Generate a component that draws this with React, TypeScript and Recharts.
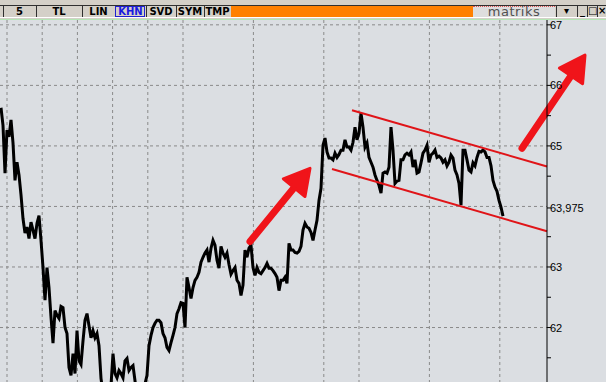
import { LineChart, Line, XAxis, YAxis, CartesianGrid, ReferenceLine } from 'recharts'

// closing prices, one per bar
const prices = [
  65.63, 65.34, 64.55, 65.26, 65.15, 65.43, 65.05, 64.43, 64.73, 64.52,
  64.19, 63.8, 63.56, 63.66, 63.47, 63.74, 63.61, 63.47, 63.72, 63.85,
  63.44, 62.99, 62.45, 62.99, 62.66, 62.17, 61.74, 62.28, 62.2, 62.15,
  62.35, 62.33, 62.0, 61.9, 61.34, 61.21, 61.57, 61.24, 61.95, 61.45,
  61.39, 61.78, 62.12, 62.23, 62.03, 61.83, 61.95, 61.83, 61.9, 61.7,
  61.16, 60.92, 60.79, 60.87, 60.82, 61.04, 61.57, 61.24, 61.17, 61.29,
  61.24, 61.17, 61.45, 61.49, 61.29, 61.34, 61.37, 61.12, 60.87, 60.79,
  60.82, 60.92, 61.07, 61.21, 61.7, 61.87, 62.0, 62.07, 62.12, 62.12,
  62.08, 61.9, 61.83, 61.67, 61.62, 61.75, 61.87, 62.0, 62.23, 62.31,
  62.41, 62.4, 62.0, 62.83, 62.66, 62.48, 62.66, 62.78, 62.83, 62.91,
  63.08, 63.16, 63.23, 63.28, 63.08, 63.31, 63.44, 63.36, 63.11, 62.98,
  63.34, 63.23, 63.16, 63.23, 63.04, 62.88, 62.94, 62.99, 62.78, 62.73,
  62.53, 62.7, 63.28, 63.16, 63.31, 63.36, 62.99, 62.86, 62.99, 62.91,
  62.89, 62.94, 62.99, 63.06, 62.98, 62.98, 62.94, 62.89, 62.83, 62.61,
  62.78, 62.78, 62.83, 62.73, 63.39, 63.28, 63.28, 63.24, 63.23, 63.26,
  63.34, 63.61, 63.72, 63.66, 63.64, 63.57, 63.44, 63.61, 63.77, 64.1,
  64.3, 65.01, 65.13, 64.9, 64.8, 64.8, 64.77, 64.88, 64.81, 64.86,
  64.93, 64.93, 65.1, 64.98, 64.98, 64.93, 65.06, 65.31, 65.1, 65.21,
  65.54, 65.31, 64.98, 65.05, 64.81, 64.73, 64.65, 64.52, 64.43, 64.35,
  64.22, 64.55, 64.57, 64.55, 64.65, 65.31, 64.93, 64.38, 64.42, 64.43,
  64.77, 64.77, 64.85, 64.88, 64.85, 64.9, 64.65, 64.77, 64.55, 64.57,
  64.72, 64.88, 64.93, 65.01, 64.73, 64.85, 64.88, 64.93, 64.81, 64.83,
  64.8, 64.73, 64.77, 64.67, 64.73, 64.85, 64.8, 64.6, 64.52, 64.38,
  64.02, 64.93, 64.93, 64.77, 64.6, 64.57, 64.72, 64.67, 64.81, 64.91,
  64.9, 64.93, 64.9, 64.81, 64.81, 64.67, 64.43, 64.32, 64.25, 64.1,
  63.99, 63.84,
]

const yTicks = [61.5, 62, 62.5, 63, 63.5, 63.975, 64.5, 65, 65.5, 66, 66.5, 67]
const yLabels: Record<string, string> = {
  '62': '62', '63': '63', '63.975': '63,975', '65': '65', '66': '66', '67': '67',
}
const gridPrices = [62, 63, 64, 65, 66, 67]
const gridBars = [3, 20.6, 38.2, 55.8, 73.4, 91, 108.6, 126.2, 143.8, 161.4, 179, 196.6, 214.2, 231.8, 249.4]

// drawn annotations: [bar, price]
const upperChannel = [[175.5, 65.59], [273, 64.66]]
const lowerChannel = [[165.5, 64.62], [273, 63.59]]
const arrowLeft = [[124.5, 63.42], [154.5, 64.63]]
const arrowRight = [[260.5, 64.96], [292, 66.5]]

const toolButtons = [
  { label: '5', x: 3, w: 33 },
  { label: 'TL', x: 36, w: 46 },
  { label: 'LIN', x: 82, w: 33 },
  { label: 'KHN', x: 115, w: 31, active: true },
  { label: 'SVD', x: 146, w: 30 },
  { label: 'SYM', x: 176, w: 28 },
  { label: 'TMP', x: 204, w: 27 },
]

const data = prices.map((p, i) => ({ t: i, price: p }))

const RED = '#f0141a'

function Arrow(props: any) {
  const { x1, y1, x2, y2 } = props
  const dx = x2 - x1
  const dy = y2 - y1
  const len = Math.sqrt(dx * dx + dy * dy)
  const ux = dx / len
  const uy = dy / len
  const headLen = 25
  const half = 14
  const bx = x2 - ux * headLen
  const by = y2 - uy * headLen
  const pts = [
    [x2, y2],
    [bx - uy * half, by + ux * half],
    [bx + uy * half, by - ux * half],
  ]
  return (
    <g>
      <line x1={x1} y1={y1} x2={bx + ux * 4} y2={by + uy * 4} stroke={RED} strokeWidth={7} strokeLinecap="round" />
      <polygon points={pts.map((p) => p.join(',')).join(' ')} fill={RED} stroke={RED} strokeWidth={3} strokeLinejoin="round" />
    </g>
  )
}

function PriceTick(props: any) {
  const { x, y, payload } = props
  const label = yLabels[String(payload.value)]
  if (!label) return <g />
  return (
    <text x={x - 1} y={y} dy={4} fontSize={11} fill="#000" fontFamily="'Liberation Sans', Arial, sans-serif">
      {label}
    </text>
  )
}

function Toolbar() {
  return (
    <div style={{ position: 'absolute', left: 0, top: 0, width: 606, height: 19, background: '#d4d0c8' }}>
      <div style={{ position: 'absolute', left: 0, top: 5, width: 606, height: 11, borderTop: '1px solid #303030', borderBottom: '1px solid #303030' }} />
      {toolButtons.map((b) => (
        <div
          key={b.label}
          style={{
            position: 'absolute', left: b.x, top: 6, width: b.w - 1, height: 11,
            borderLeft: '1px solid #303030', background: '#d4d0c8',
            boxSizing: 'border-box',
            outline: b.active ? '1px solid #2020d0' : 'none', outlineOffset: -1,
            color: b.active ? '#1a1ae0' : '#000',
            fontFamily: "'DejaVu Sans', Verdana, sans-serif", fontWeight: 'bold', fontSize: 10,
            lineHeight: '11px', textAlign: 'center',
          }}
        >
          {b.label}
        </div>
      ))}
      <div style={{ position: 'absolute', left: 231, top: 6, width: 242, height: 11, background: '#ff8000' }} />
      <div style={{
        position: 'absolute', left: 473, top: 6, width: 82, height: 11, background: '#dedede',
        borderTop: '1px dotted #e05050', boxSizing: 'border-box',
        color: '#505050', fontFamily: "'DejaVu Sans', sans-serif", fontSize: 13, lineHeight: '9px', textAlign: 'center',
        letterSpacing: 0.5,
      }}>
        matriks
      </div>
      {[
        { s: '▾', x: 556, w: 20 },
        { s: '_', x: 577, w: 10 },
        { s: '□', x: 587, w: 10 },
        { s: '×', x: 597, w: 9 },
      ].map((c) => (
        <div key={c.x} style={{
          position: 'absolute', left: c.x, top: 6, width: c.w, height: 11, background: '#d4d0c8',
          borderLeft: '1px solid #303030', boxSizing: 'border-box', fontSize: 10, lineHeight: '10px',
          textAlign: 'center', fontFamily: "'DejaVu Sans', sans-serif", fontWeight: 'bold', color: '#000',
        }}>{c.s}</div>
      ))}
      <div style={{ position: 'absolute', left: 0, top: 17, width: 606, height: 1, background: '#ffffff' }} />
    </div>
  )
}

export default function App() {
  return (
    <div style={{ position: 'absolute', left: 0, top: 0, width: 606, height: 382, overflow: 'hidden', background: '#dbdee2' }}>
      <Toolbar />
      <div style={{ position: 'absolute', left: 0, top: 19, width: 606, height: 1, background: '#b4e6b4' }} />
      <div style={{ position: 'absolute', left: 0, top: 20 }}>
        <LineChart width={606} height={362} data={data} margin={{ top: 0, right: 0, bottom: 0, left: 0 }}>
          <CartesianGrid
            stroke="#8a8a8a"
            strokeDasharray="3 3"
            horizontalValues={gridPrices}
            verticalValues={gridBars}
          />
          <XAxis dataKey="t" type="number" domain={[-0.5, 273]} allowDataOverflow hide />
          <YAxis
            orientation="right"
            width={59}
            domain={[61.1, 67.08]}
            allowDataOverflow
            ticks={yTicks}
            interval={0}
            tickSize={4}
            tickMargin={0}
            axisLine={{ stroke: '#000' }}
            tickLine={{ stroke: '#000' }}
            tick={<PriceTick />}
          />
          <Line
            type="linear"
            dataKey="price"
            stroke="#000"
            strokeWidth={3}
            strokeLinejoin="miter"
            dot={false}
            isAnimationActive={false}
          />
          <ReferenceLine
            segment={upperChannel.map(([t, p]) => ({ x: t, y: p }))}
            stroke="#e01418"
            strokeWidth={2}
            ifOverflow="visible"
          />
          <ReferenceLine
            segment={lowerChannel.map(([t, p]) => ({ x: t, y: p }))}
            stroke="#e01418"
            strokeWidth={2}
            ifOverflow="visible"
          />
          <ReferenceLine
            segment={arrowLeft.map(([t, p]) => ({ x: t, y: p }))}
            ifOverflow="visible"
            shape={(p: any) => <Arrow {...p} />}
          />
          <ReferenceLine
            segment={arrowRight.map(([t, p]) => ({ x: t, y: p }))}
            ifOverflow="visible"
            shape={(p: any) => <Arrow {...p} />}
          />
        </LineChart>
      </div>
    </div>
  )
}
